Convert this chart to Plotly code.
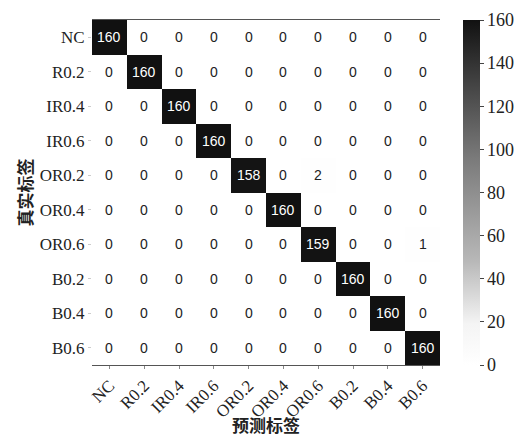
import plotly.graph_objects as go

labels = ["NC", "R0.2", "IR0.4", "IR0.6", "OR0.2", "OR0.4", "OR0.6", "B0.2", "B0.4", "B0.6"]
matrix = [
    [160, 0, 0, 0, 0, 0, 0, 0, 0, 0],
    [0, 160, 0, 0, 0, 0, 0, 0, 0, 0],
    [0, 0, 160, 0, 0, 0, 0, 0, 0, 0],
    [0, 0, 0, 160, 0, 0, 0, 0, 0, 0],
    [0, 0, 0, 0, 158, 0, 2, 0, 0, 0],
    [0, 0, 0, 0, 0, 160, 0, 0, 0, 0],
    [0, 0, 0, 0, 0, 0, 159, 0, 0, 1],
    [0, 0, 0, 0, 0, 0, 0, 160, 0, 0],
    [0, 0, 0, 0, 0, 0, 0, 0, 160, 0],
    [0, 0, 0, 0, 0, 0, 0, 0, 0, 160],
]
cbar_ticks = [0, 20, 40, 60, 80, 100, 120, 140, 160]

fig = go.Figure()
fig.add_trace(go.Heatmap(
    z=matrix, x=labels, y=labels,
    zmin=0, zmax=160,
    colorscale=[[0, "#ffffff"], [0.12, "#f4f4f4"], [0.3, "#b8b8b8"], [0.6, "#7a7a7a"], [0.85, "#3a3a3a"], [1, "#111111"]],
    showscale=True,
    colorbar=dict(
        x=463 / 517, xanchor="left", xref="container",
        y=0, yanchor="bottom", len=1, lenmode="fraction",
        xpad=0, ypad=0,
        thickness=17, outlinewidth=0,
        tickvals=cbar_ticks, ticks="outside", ticklen=4, tickcolor="#444",
        tickfont=dict(family="Liberation Serif", size=18, color="#222"),
    ),
    hoverinfo="skip",
))

for i, row in enumerate(matrix):
    for j, v in enumerate(row):
        fig.add_annotation(
            x=labels[j], y=labels[i], text=str(v), showarrow=False,
            font=dict(family="Liberation Sans", size=14, color="white" if v > 80 else "#222"),
        )

fig.update_layout(
    width=517, height=437,
    margin=dict(l=92, r=77, t=20, b=72, autoexpand=False),
    plot_bgcolor="white", paper_bgcolor="white",
    xaxis=dict(
        tickangle=-45, showline=True, linecolor="#555", linewidth=1, mirror=True,
        ticks="outside", ticklen=3, tickcolor="#888",
        tickfont=dict(family="Liberation Serif", size=17, color="#222"),
        title=dict(text="<b>预测标签</b>", font=dict(family="Noto Sans CJK SC", size=17, color="#222"), standoff=2),
        showgrid=False, zeroline=False,
    ),
    yaxis=dict(
        autorange="reversed", showline=False,
        ticks="outside", ticklen=3, tickcolor="#ccc",
        tickfont=dict(family="Liberation Serif", size=17, color="#222"),
        title=dict(text="<b>真实标签</b>", font=dict(family="Noto Sans CJK SC", size=17, color="#222"), standoff=2),
        showgrid=False, zeroline=False,
    ),
)

fig.write_html("out.html")
